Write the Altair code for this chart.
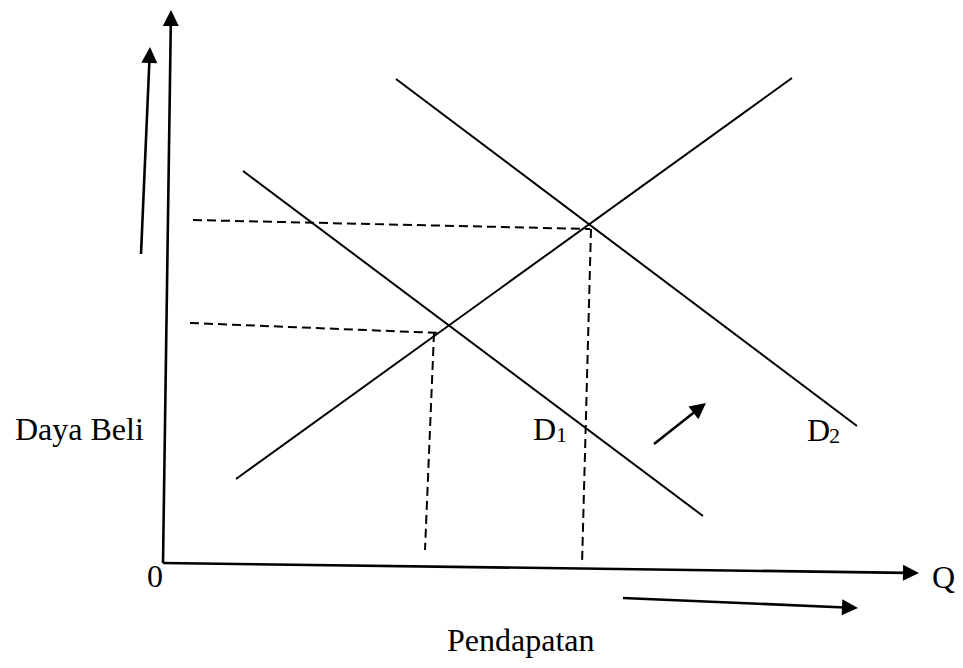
import math
import altair as alt
import pandas as pd

# Drawing coordinates: x grows to the right, y grows downward (like the picture)
# Demand curves D1, D2 and the upward sloping line
curve_names = ["D1", "D2", "S"]
curve_x1 = [243, 396, 236]
curve_y1 = [171, 79, 479]
curve_x2 = [703, 857, 792]
curve_y2 = [516, 426, 78]

# Dashed guide lines to the axes
guide_names = ["P2", "P1", "Q1", "Q2"]
guide_x1 = [193, 190, 434, 591]
guide_y1 = [220, 323, 333, 229]
guide_x2 = [590, 440, 425, 582]
guide_y2 = [229, 333, 550, 565]

# Axes and direction arrows (x2, y2 = arrow tip)
arrow_names = ["axis_y", "axis_x", "daya_beli", "pendapatan", "shift"]
arrow_x1 = [163, 163, 141, 623, 654]
arrow_y1 = [563, 563, 254, 598, 444]
arrow_x2 = [171, 919, 150, 858, 706]
arrow_y2 = [10, 573, 47, 608, 403]

# Text labels (left edge, baseline)
label_texts = ["Daya Beli", "0", "Q", "Pendapatan", "D", "D"]
label_x = [15, 147, 932, 447, 533, 807]
label_y = [440, 587, 588, 651, 440, 441]

sub_texts = ["1", "2"]
sub_x = [556, 829]
sub_y = [442, 443]

HEAD = 16

curves = pd.DataFrame({"name": curve_names, "x": curve_x1, "y": curve_y1,
                       "x2": curve_x2, "y2": curve_y2})
guides = pd.DataFrame({"name": guide_names, "x": guide_x1, "y": guide_y1,
                       "x2": guide_x2, "y2": guide_y2})

rows = []
for n, a, b, c, d in zip(arrow_names, arrow_x1, arrow_y1, arrow_x2, arrow_y2):
    dx, dy = c - a, d - b
    L = math.hypot(dx, dy)
    ux, uy = dx / L, dy / L
    ang = math.degrees(math.atan2(dx, -dy)) % 360
    rows.append({"name": n, "x": a, "y": b,
                 "x2": c - ux * (HEAD - 3), "y2": d - uy * (HEAD - 3),
                 "tx": c, "ty": d, "angle": ang})
arrows = pd.DataFrame(rows)

labels = pd.DataFrame({"text": label_texts, "x": label_x, "y": label_y})
subs = pd.DataFrame({"text": sub_texts, "x": sub_x, "y": sub_y})

# the page has an 8px margin; the drawing spans page pixels 8..955 x 8..660
W, H = 947, 652
xs = alt.Scale(domain=[8, 8 + W], nice=False, zero=False)
ys = alt.Scale(domain=[8, 8 + H], nice=False, zero=False, reverse=True)
X = lambda f: alt.X(f, type="quantitative", scale=xs, axis=None)
Y = lambda f: alt.Y(f, type="quantitative", scale=ys, axis=None)

curve_layer = alt.Chart(curves).mark_rule(color="black", strokeWidth=2).encode(
    x=X("x"), y=Y("y"), x2="x2", y2="y2")

guide_layer = alt.Chart(guides).mark_rule(
    color="black", strokeWidth=2, strokeDash=[9, 5]).encode(
    x=X("x"), y=Y("y"), x2="x2", y2="y2")

arrow_layer = alt.Chart(arrows).mark_rule(color="black", strokeWidth=2.6).encode(
    x=X("x"), y=Y("y"), x2="x2", y2="y2")

head_layer = alt.Chart(arrows).mark_point(
    shape="M0,0L1,2L-1,2Z", filled=True, color="black", opacity=1,
    size=HEAD * HEAD, strokeWidth=0).encode(
    x=X("tx"), y=Y("ty"), angle=alt.Angle("angle:Q", scale=None))

label_layer = alt.Chart(labels).mark_text(
    font="Liberation Serif", fontSize=32, align="left", baseline="alphabetic",
    color="black").encode(x=X("x"), y=Y("y"), text="text:N")

sub_layer = alt.Chart(subs).mark_text(
    font="Liberation Serif", fontSize=22, align="left", baseline="alphabetic",
    color="black").encode(x=X("x"), y=Y("y"), text="text:N")

chart = alt.layer(curve_layer, guide_layer, arrow_layer, head_layer,
                  label_layer, sub_layer).properties(
    width=W, height=H, padding=0,
    autosize=alt.AutoSizeParams(type="none"),
    background="white",
).configure_view(stroke=None)

chart.save("out.html", embed_options={"renderer": "svg", "actions": False})
